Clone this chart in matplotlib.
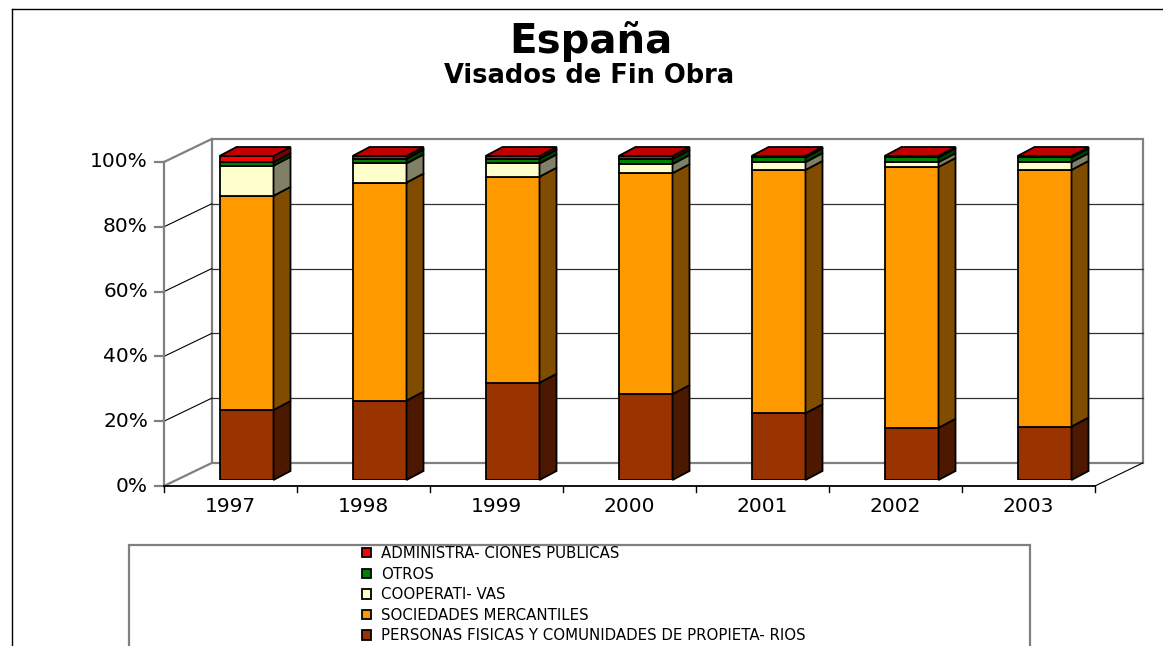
import matplotlib
matplotlib.use("Agg")
import matplotlib.pyplot as plt
from matplotlib.patches import Polygon, Rectangle
from matplotlib.lines import Line2D

plt.rcParams['font.family'] = ['DejaVu Sans']

# ---------------- data ----------------
years = ['1997', '1998', '1999', '2000', '2001', '2002', '2003']
series_names = ['PERSONAS FISICAS Y COMUNIDADES DE PROPIETA- RIOS',
                'SOCIEDADES MERCANTILES',
                'COOPERATI- VAS',
                'OTROS',
                'ADMINISTRA- CIONES PUBLICAS']
personas = [21.6, 24.5, 30.0, 26.5, 20.6, 16.1, 16.5]
sociedades = [66.1, 67.3, 63.6, 68.2, 75.1, 80.5, 79.2]
cooperativas = [9.3, 5.9, 4.1, 2.8, 2.4, 1.5, 2.4]
otros = [1.1, 1.5, 1.5, 1.6, 1.5, 1.5, 1.5]
administraciones = [1.9, 0.8, 0.8, 0.9, 0.4, 0.4, 0.4]
yticks = [0, 20, 40, 60, 80, 100]
ytick_labels = ['0%', '20%', '40%', '60%', '80%', '100%']

front_colors = ['#993300', '#ff9900', '#ffffcc', '#008000', '#ff0000']
side_colors = ['#4c1900', '#804c00', '#808066', '#004000', '#800000']
top_color = '#c00000'

# ---------------- figure ----------------
W, H = 1163, 646
fig = plt.figure(figsize=(W / 100, H / 100), dpi=100)
fig.patch.set_facecolor('white')

# axes = plane of the bars' front faces
ax = fig.add_axes([180 / W, (H - 480) / H, 931 / W, 324 / H])
ax.set_xlim(-0.5, 6.5)
ax.set_ylim(0, 100)
ax.axis('off')

PXX = 931 / 7.0   # pixels per category unit
PXY = 324 / 100.0  # pixels per percent


def off(dx_px, dy_px):
    return dx_px / PXX, dy_px / PXY


fx, fy = off(-16, -6)     # front plane offset
bx, by = off(31.7, 17)    # back wall offset
ddx, ddy = off(17, 9)     # bar depth

# back wall
ax.add_patch(Rectangle((-0.5 + bx, by), 7, 100, facecolor='white',
                       edgecolor='#808080', lw=1.6, clip_on=False, zorder=1))
for v in yticks[1:-1]:
    ax.plot([-0.5 + bx, 6.5 + bx], [v + by, v + by], color='#303030',
            lw=0.9, clip_on=False, zorder=1.2)

# side wall diagonals
for v in yticks:
    edge = v in (0, 100)
    ax.plot([-0.5 + fx, -0.5 + bx], [v + fy, v + by],
            color='#808080' if edge else 'black', lw=1.6 if edge else 0.8,
            clip_on=False, zorder=1.3)

# front y axis + ticks + labels
x0 = -0.5 + fx
ax.plot([x0, x0], [fy, 100 + fy], color='#808080', lw=1.6, clip_on=False, zorder=1.4)
for v, lab in zip(yticks, ytick_labels):
    ax.plot([x0 - 9 / PXX, x0], [v + fy, v + fy], color='#808080', lw=1.6,
            clip_on=False, zorder=1.4)
    ax.text(x0 - 16 / PXX, v + fy, lab, ha='right', va='center',
            fontsize=14.5, color='black')

# floor
ax.plot([-0.5 + fx, 6.5 + fx], [fy, fy], color='black', lw=1.3, clip_on=False, zorder=1.5)
ax.plot([6.5 + fx, 6.5 + bx], [fy, by], color='black', lw=0.8, clip_on=False, zorder=1.5)
for k in range(8):
    xk = -0.5 + k + fx
    ax.plot([xk, xk], [fy, fy - 6 / PXY], color='black', lw=1.0, clip_on=False, zorder=1.5)
for i, yr in enumerate(years):
    ax.text(i + fx, fy - 21 / PXY, yr, ha='center', va='center', fontsize=14.5)

# bars
data = [personas, sociedades, cooperativas, otros, administraciones]
xs = list(range(len(years)))
bw = 54 / PXX
bottoms = [0.0] * len(years)
containers = []
for s, (vals, name) in enumerate(zip(data, series_names)):
    c = ax.bar(xs, vals, bottom=bottoms, width=bw, color=front_colors[s],
               edgecolor='black', linewidth=1.3, label=name, zorder=3)
    containers.append(c)
    for i in xs:
        xr = i + bw / 2
        b0 = bottoms[i]
        b1 = b0 + vals[i]
        ax.add_patch(Polygon([(xr, b0), (xr, b1), (xr + ddx, b1 + ddy), (xr + ddx, b0 + ddy)],
                             closed=True, facecolor=side_colors[s], edgecolor='black',
                             lw=1.3, zorder=3, clip_on=False))
    bottoms = [b + v for b, v in zip(bottoms, vals)]

for i in xs:
    xl, xr = i - bw / 2, i + bw / 2
    t = bottoms[i]
    ax.add_patch(Polygon([(xl, t), (xr, t), (xr + ddx, t + ddy), (xl + ddx, t + ddy)],
                         closed=True, facecolor=top_color, edgecolor='black',
                         lw=1.3, zorder=3.5, clip_on=False))

# titles
fig.text(591 / W, 1 - 42 / H, 'España', ha='center', va='center',
         fontsize=29, fontweight='bold')
fig.text(589 / W, 1 - 76 / H, 'Visados de Fin Obra', ha='center', va='center',
         fontsize=18.5, fontweight='bold')

# chart border
fig.add_artist(Line2D([11.7 / W, 1.0], [1 - 9.3 / H, 1 - 9.3 / H], color='black', lw=1.0,
                      transform=fig.transFigure))
fig.add_artist(Line2D([11.7 / W, 11.7 / W], [1 - 9.3 / H, 0.0], color='black', lw=1.0,
                      transform=fig.transFigure))

# legend box + legend
fig.add_artist(Rectangle((128.7 / W, -0.1), (1030 - 128.7) / W, 0.1 + (H - 545) / H,
                         transform=fig.transFigure, fill=False, edgecolor='#808080', lw=1.6))
handles = [c for c in containers][::-1]
labels = series_names[::-1]
fig.legend(handles, labels, loc='upper left', bbox_to_anchor=(362 / W, 1 - 546 / H),
           frameon=False, borderpad=0, borderaxespad=0, fontsize=10.8,
           handlelength=0.6, handleheight=0.6, handletextpad=0.65, labelspacing=0.37)

fig.savefig('out.png', dpi=100, facecolor='white')
